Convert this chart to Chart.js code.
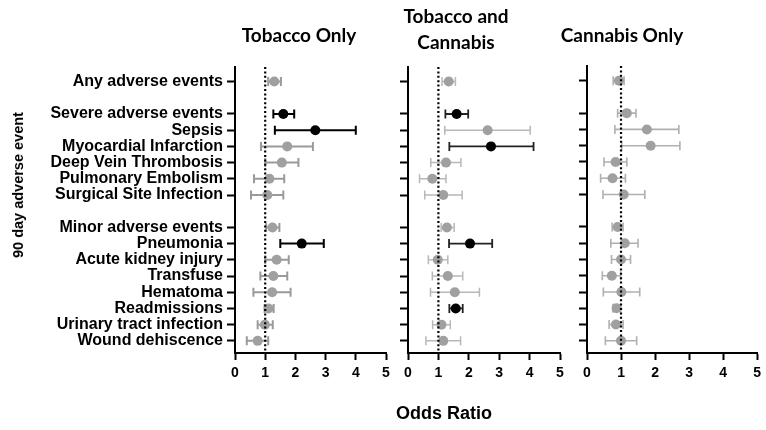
<!DOCTYPE html>
<html>
<head>
<meta charset="utf-8">
<script src="https://cdn.jsdelivr.net/npm/chart.js@4.4.0/dist/chart.umd.min.js"></script>
<style>
  body { margin: 0; background: #fff; }
  #wrap { position: relative; width: 766px; height: 430px; overflow: hidden; font-family: "Liberation Sans", Arial, sans-serif; color: #000; }
  .panel { position: absolute; top: 0; }
  .title { position: absolute; font-family: Lato, "Open Sans", sans-serif; font-weight: bold; font-size: 19px; line-height: 26px; text-align: center; white-space: nowrap; transform: translate(-50%, -50%); }
  .axis-title { position: absolute; font-weight: bold; white-space: nowrap; }
</style>
</head>
<body>
<div id="wrap">
  <canvas id="p1" class="panel" width="400" height="430" style="left:0"></canvas>
  <canvas id="p2" class="panel" width="180" height="430" style="left:392px"></canvas>
  <canvas id="p3" class="panel" width="196" height="430" style="left:570px"></canvas>
  <div class="title" style="left:299px; top:35px">Tobacco Only</div>
  <div class="title" style="left:456px; top:29px">Tobacco and<br>Cannabis</div>
  <div class="title" style="left:622px; top:35px">Cannabis Only</div>
  <div class="axis-title" style="left:18px; top:185px; font-size:14.5px; transform: translate(-50%, -50%) rotate(-90deg)">90 day adverse event</div>
  <div class="axis-title" style="left:444px; top:413px; font-size:18px; transform: translate(-50%, -50%)">Odds Ratio</div>
</div>
<script>
// rows, '' = spacer row
const events = ["Any adverse events", "", "Severe adverse events", "Sepsis", "Myocardial Infarction",
  "Deep Vein Thrombosis", "Pulmonary Embolism", "Surgical Site Infection", "",
  "Minor adverse events", "Pneumonia", "Acute kidney injury", "Transfuse", "Hematoma",
  "Readmissions", "Urinary tract infection", "Wound dehiscence"]

const xTicks = [0, 1, 2, 3, 4, 5]

// Tobacco only
const tobOR = [1.30, null, 1.60, 2.66, 1.73, 1.55, 1.14, 1.07, null, 1.24, 2.21, 1.38, 1.27, 1.23, 1.11, 0.99, 0.75]
const tobLo = [1.10, null, 1.27, 1.32, 0.86, 1.00, 0.63, 0.53, null, 1.03, 1.50, 1.00, 0.84, 0.61, 0.98, 0.75, 0.39]
const tobHi = [1.52, null, 1.96, 4.00, 2.58, 2.10, 1.63, 1.60, null, 1.47, 2.94, 1.78, 1.73, 1.84, 1.28, 1.25, 1.10]
const tobSig = [0, 0, 1, 1, 0, 0, 0, 0, 0, 0, 1, 0, 0, 0, 0, 0, 0]

// Tobacco and cannabis
const bothOR = [1.34, null, 1.60, 2.62, 2.73, 1.25, 0.80, 1.16, null, 1.28, 2.04, 0.98, 1.31, 1.54, 1.57, 1.10, 1.16]
const bothLo = [1.12, null, 1.23, 1.21, 1.36, 0.75, 0.38, 0.55, null, 1.09, 1.35, 0.67, 0.80, 0.74, 1.36, 0.81, 0.59]
const bothHi = [1.56, null, 1.98, 4.02, 4.13, 1.74, 1.25, 1.78, null, 1.52, 2.77, 1.31, 1.80, 2.35, 1.80, 1.39, 1.73]
const bothSig = [0, 0, 1, 0, 1, 0, 0, 0, 0, 0, 1, 0, 0, 0, 1, 0, 0]

// Cannabis only
const canOR = [0.94, null, 1.17, 1.76, 1.87, 0.84, 0.75, 1.08, null, 0.90, 1.11, 1.00, 0.73, 1.01, 0.87, 0.85, 1.00]
const canLo = [0.77, null, 0.90, 0.82, 1.02, 0.50, 0.40, 0.47, null, 0.74, 0.70, 0.72, 0.45, 0.48, 0.76, 0.65, 0.54]
const canHi = [1.09, null, 1.44, 2.70, 2.73, 1.17, 1.13, 1.70, null, 1.06, 1.50, 1.28, 0.99, 1.55, 0.99, 1.06, 1.46]
const canSig = [0, 0, 0, 0, 0, 0, 0, 0, 0, 0, 0, 0, 0, 0, 0, 0, 0]

const GRAY_PT = "#a0a0a0"

// whiskers with caps, drawn under the points
const errorBars = {
  id: "errorBars",
  beforeDatasetsDraw(chart, args, opts) {
    const { ctx, scales: { x, y } } = chart
    chart.data.datasets[0].data.forEach((p) => {
      const py = y.getPixelForValue(p.y)
      const x0 = x.getPixelForValue(p.lo)
      const x1 = x.getPixelForValue(p.hi)
      ctx.save()
      ctx.strokeStyle = p.sig ? opts.sigColor : opts.color
      ctx.lineWidth = p.sig ? opts.sigWidth : opts.width
      ctx.beginPath()
      ctx.moveTo(x0, py); ctx.lineTo(x1, py)
      ctx.moveTo(x0, py - 4.5); ctx.lineTo(x0, py + 4.5)
      ctx.moveTo(x1, py - 4.5); ctx.lineTo(x1, py + 4.5)
      ctx.stroke()
      ctx.restore()
    })
  },
}

// dotted line at OR = 1
const refLine = {
  id: "refLine",
  afterDatasetsDraw(chart) {
    const { ctx, chartArea, scales: { x } } = chart
    const px = x.getPixelForValue(1)
    ctx.save()
    ctx.strokeStyle = "#000"
    ctx.lineWidth = 2.2
    ctx.setLineDash([2, 2.4])
    ctx.beginPath()
    ctx.moveTo(px, chartArea.top)
    ctx.lineTo(px, chartArea.bottom)
    ctx.stroke()
    ctx.restore()
  },
}

function makePanel(id, or, lo, hi, sig, o) {
  const points = []
  events.forEach((e, i) => {
    if (or[i] != null) points.push({ x: or[i], y: i, lo: lo[i], hi: hi[i], sig: !!sig[i] })
  })

  new Chart(document.getElementById(id), {
    type: "scatter",
    data: {
      datasets: [{
        data: points,
        pointRadius: 5,
        pointHoverRadius: 5,
        borderWidth: 0,
        backgroundColor: (c) => (c.raw && c.raw.sig ? "#000" : GRAY_PT),
      }],
    },
    options: {
      responsive: false,
      animation: false,
      events: [],
      layout: { padding: { top: o.top, bottom: 47, right: o.right, left: 0 } },
      plugins: {
        legend: { display: false },
        tooltip: { enabled: false },
        errorBars: o.bars,
      },
      scales: {
        x: {
          type: "linear",
          min: xTicks[0],
          max: xTicks[xTicks.length - 1],
          afterBuildTicks: (s) => { s.ticks = xTicks.map((v) => ({ value: v })) },
          afterFit: (s) => { s.height = 30 },
          border: { display: true, width: 2, color: "#000" },
          grid: { drawOnChartArea: false, drawTicks: true, tickLength: 7, tickWidth: 2, tickColor: "#000" },
          ticks: { color: "#000", padding: 5, font: { family: "Liberation Sans", weight: "bold", size: 14 } },
        },
        y: {
          type: "linear",
          reverse: true,
          min: -0.9,
          max: 16.75,
          afterBuildTicks: (s) => {
            s.ticks = events.map((e, i) => ({ value: i })).filter((t) => events[t.value] !== "")
          },
          afterFit: (s) => { s.width = o.yWidth },
          border: { display: true, width: 2, color: "#000" },
          grid: { drawOnChartArea: false, drawTicks: true, tickLength: 8, tickWidth: 2, tickColor: "#000" },
          ticks: {
            autoSkip: false,
            color: "#000",
            padding: 4,
            font: { family: "Liberation Sans", weight: "bold", size: 16 },
            callback: (v) => (o.labels ? events[v] : ""),
          },
        },
      },
    },
    plugins: [errorBars, refLine],
  })
}

makePanel("p1", tobOR, tobLo, tobHi, tobSig, {
  yWidth: 235, right: 14, top: 67, labels: true,
  bars: { color: "#9a9a9a", width: 2, sigColor: "#000", sigWidth: 2 },
})
makePanel("p2", bothOR, bothLo, bothHi, bothSig, {
  yWidth: 16, right: 12, top: 67, labels: false,
  bars: { color: "#b8b8b8", width: 1.5, sigColor: "#222", sigWidth: 1.8 },
})
makePanel("p3", canOR, canLo, canHi, canSig, {
  yWidth: 17, right: 7, top: 66, labels: false,
  bars: { color: "#b0b0b0", width: 1.6, sigColor: "#222", sigWidth: 1.8 },
})
</script>
</body>
</html>
